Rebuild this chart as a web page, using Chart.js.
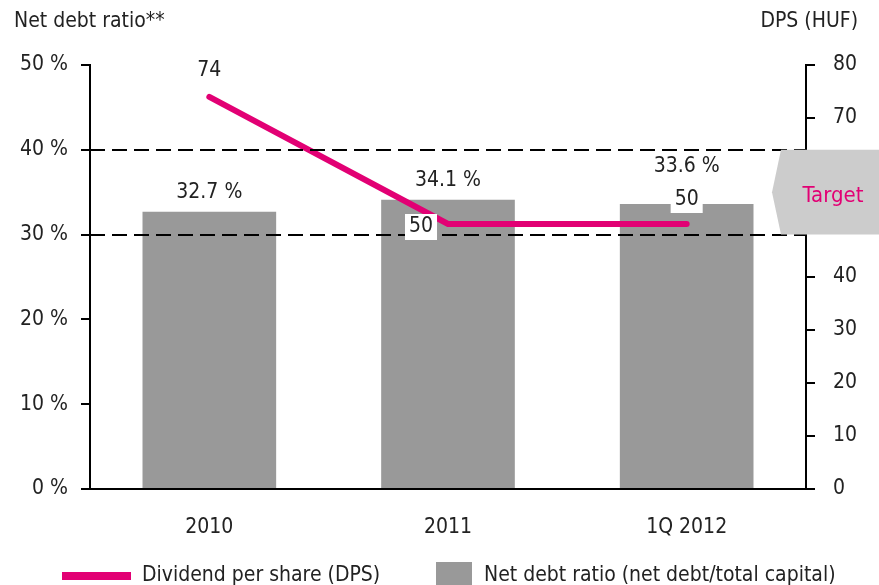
<!DOCTYPE html>
<html>
<head>
<meta charset="utf-8">
<script src="https://cdn.jsdelivr.net/npm/chart.js@4"></script>
<style>
  html, body { margin: 0; padding: 0; background: #fff; }
  canvas { display: block; }
</style>
</head>
<body>
<canvas id="debtChart" width="879" height="585"></canvas>
<script>
// --- Données ---
const periods = ["2010", "2011", "1Q 2012"];
const netDebtRatio = [32.7, 34.1, 33.6];
const dividendPerShare = [74, 50, 50];
const ratioLabels = ["32.7 %", "34.1 %", "33.6 %"];
const targetRange = [30, 40];

const FONT = "'Liberation Sans Narrow', 'DejaVu Sans Condensed', Arial, sans-serif";
const MAGENTA = "#e20074";
const TEXT = "#222222";

// --- Annotations dessinées à la main ---
const extras = {
  id: "extras",
  afterDatasetsDraw(chart) {
    const { ctx, chartArea: a, scales } = chart;
    const x = scales.x, y = scales.y, y1 = scales.y1;

    // lignes cibles en pointillés
    ctx.save();
    ctx.strokeStyle = "#000";
    ctx.lineWidth = 2;
    ctx.setLineDash([15, 7]);
    targetRange.forEach((v) => {
      const py = Math.round(y.getPixelForValue(v));
      ctx.beginPath();
      ctx.moveTo(a.left, py);
      ctx.lineTo(a.right, py);
      ctx.stroke();
    });
    ctx.restore();

    // axe du bas
    ctx.save();
    ctx.strokeStyle = "#000";
    ctx.lineWidth = 2;
    ctx.beginPath();
    ctx.moveTo(a.left - 9, a.bottom);
    ctx.lineTo(a.right + 9, a.bottom);
    ctx.stroke();
    ctx.restore();

    ctx.save();
    ctx.font = "21px " + FONT;
    ctx.fillStyle = TEXT;
    ctx.textAlign = "center";
    ctx.textBaseline = "middle";

    // étiquettes des barres
    const barLift = [19, 19, 38];
    netDebtRatio.forEach((v, i) => {
      const px = x.getPixelForValue(i);
      const py = y.getPixelForValue(v);
      ctx.fillText(ratioLabels[i], px, py - barLift[i]);
    });

    // étiquettes de la ligne (fond blanc)
    const lineOffsets = [[0, -26], [-27, 3], [0, -24]];
    dividendPerShare.forEach((v, i) => {
      const px = x.getPixelForValue(i) + lineOffsets[i][0];
      const py = y1.getPixelForValue(v) + lineOffsets[i][1];
      const txt = String(v);
      const w = ctx.measureText(txt).width + 8;
      if (i > 0) {
        ctx.fillStyle = "#fff";
        ctx.fillRect(px - w / 2, py - 13, w, 26);
      }
      ctx.fillStyle = TEXT;
      ctx.fillText(txt, px, py);
    });
    ctx.restore();
  },
  afterDraw(chart) {
    const { ctx, chartArea: a, scales, width } = chart;
    const y = scales.y;
    const top = y.getPixelForValue(targetRange[1]);
    const bot = y.getPixelForValue(targetRange[0]);
    const mid = (top + bot) / 2;

    // flèche "Target"
    ctx.save();
    ctx.fillStyle = "#cccccc";
    ctx.beginPath();
    ctx.moveTo(a.right - 25, top);
    ctx.lineTo(width, top);
    ctx.lineTo(width, bot);
    ctx.lineTo(a.right - 25, bot);
    ctx.lineTo(a.right - 34, mid);
    ctx.closePath();
    ctx.fill();
    ctx.fillStyle = MAGENTA;
    ctx.font = "22px " + FONT;
    ctx.textAlign = "center";
    ctx.textBaseline = "middle";
    ctx.fillText("Target", a.right + 27, mid + 4);

    // titres des axes
    ctx.fillStyle = TEXT;
    ctx.font = "21px " + FONT;
    ctx.textAlign = "left";
    ctx.fillText("Net debt ratio**", 14, 22);
    ctx.textAlign = "right";
    ctx.fillText("DPS (HUF)", 858, 22);

    // légende
    ctx.strokeStyle = MAGENTA;
    ctx.lineWidth = 8;
    ctx.beginPath();
    ctx.moveTo(62, 576);
    ctx.lineTo(131, 576);
    ctx.stroke();
    ctx.textAlign = "left";
    ctx.font = "21px " + FONT;
    ctx.fillText("Dividend per share (DPS)", 142, 576);
    ctx.fillStyle = "#999999";
    ctx.fillRect(436, 562, 36, 30);
    ctx.fillStyle = TEXT;
    ctx.fillText("Net debt ratio (net debt/total capital)", 484, 576);
    ctx.restore();
  }
};

new Chart(document.getElementById("debtChart"), {
  data: {
    labels: periods,
    datasets: [
      {
        type: "line",
        label: "Dividend per share (DPS)",
        data: dividendPerShare,
        yAxisID: "y1",
        borderColor: MAGENTA,
        borderWidth: 6,
        borderCapStyle: "round",
        pointRadius: 0,
        tension: 0,
        order: 0,
      },
      {
        type: "bar",
        label: "Net debt ratio (net debt/total capital)",
        data: netDebtRatio,
        yAxisID: "y",
        backgroundColor: "#999999",
        barPercentage: 0.56,
        categoryPercentage: 1,
        order: 1,
      },
    ],
  },
  options: {
    responsive: false,
    animation: false,
    layout: { padding: { top: 65, left: 0, right: 0, bottom: 0 } },
    plugins: { legend: { display: false }, tooltip: { enabled: false } },
    scales: {
      x: {
        offset: true,
        grid: { display: false, drawTicks: false },
        border: { display: false },
        ticks: { color: TEXT, font: { family: FONT, size: 21 }, padding: 26 },
        afterFit: (s) => { s.height = 96; },
      },
      y: {
        position: "left",
        min: 0,
        max: 50,
        ticks: {
          stepSize: 10,
          color: TEXT,
          padding: 13,
          font: { family: FONT, size: 21 },
          callback: (v) => v + " %",
        },
        grid: { drawOnChartArea: false, drawTicks: true, tickLength: 9, color: "#000", lineWidth: 2 },
        border: { color: "#000", width: 2 },
        afterFit: (s) => { s.width = 90; },
      },
      y1: {
        position: "right",
        min: 0,
        max: 80,
        ticks: { stepSize: 10, color: TEXT, padding: 18, font: { family: FONT, size: 21 } },
        grid: { drawOnChartArea: false, drawTicks: true, tickLength: 9, color: "#000", lineWidth: 2 },
        border: { color: "#000", width: 2 },
        afterFit: (s) => { s.width = 73; },
      },
    },
  },
  plugins: [extras],
});
</script>
</body>
</html>
